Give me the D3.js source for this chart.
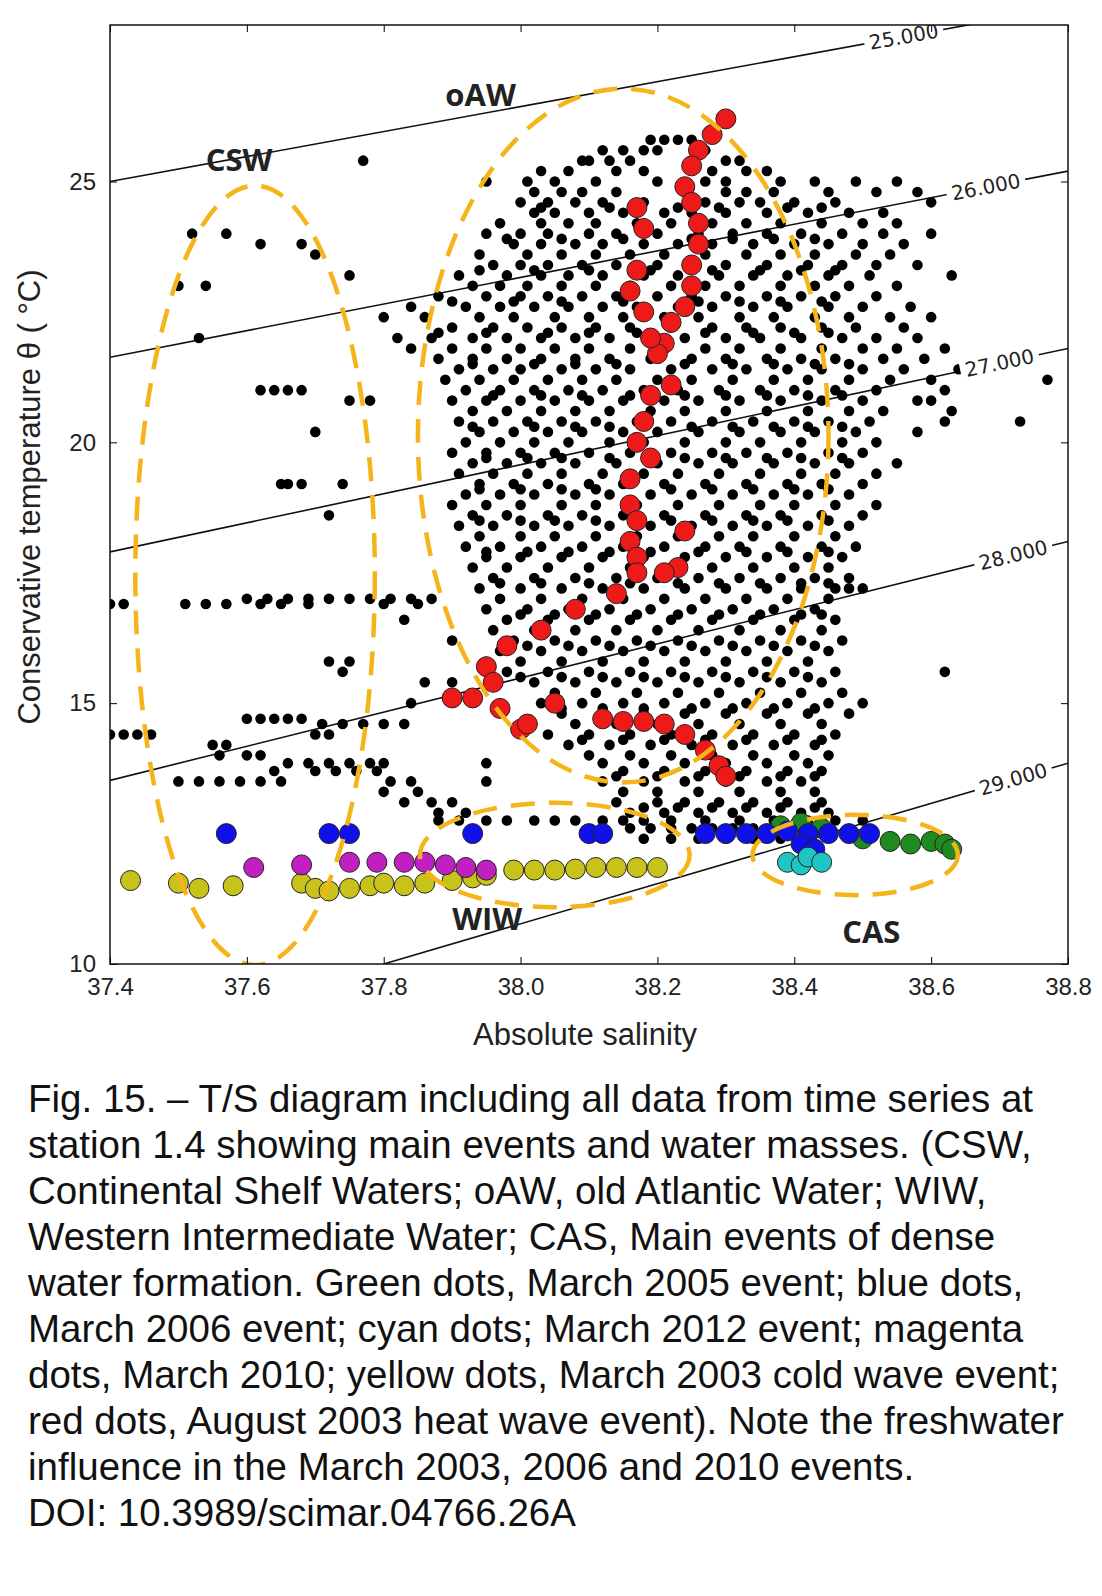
<!DOCTYPE html>
<html><head><meta charset="utf-8">
<script src="https://cdn.jsdelivr.net/npm/d3@7"></script>
<style>
html,body{margin:0;background:#fff;overflow:hidden;}
svg{display:block;}
.cap{font-family:"Liberation Sans",Arial,sans-serif;font-size:38.5px;fill:#111;}
</style></head>
<body>
<div id="chart-area"></div>
<script>
// isopycnals: label, [S,T] start, [S,T] end
var isoNames = ["25.000", "26.000", "27.000", "28.000", "29.000"];
var isoStart = [[37.4, 25.0], [37.4, 21.63], [37.4, 17.9], [37.4, 13.52], [37.8, 10.0]];
var isoEnd = [[38.8, 28.35], [38.8, 25.2], [38.8, 21.8], [38.8, 18.1], [38.8, 13.85]];
var isoLabelS = [38.56, 38.68, 38.70, 38.72, 38.72];

var xTicks = [37.4, 37.6, 37.8, 38.0, 38.2, 38.4, 38.6, 38.8];
var yTicks = [10, 15, 20, 25];

// black dots, rows of [T, [S...]]
var blackRows = [
  [25.8, [38.19, 38.21, 38.23, 38.25]],
  [25.6, [38.12, 38.15, 38.18, 38.2, 38.27]],
  [25.4, [37.77, 38.09, 38.1, 38.13, 38.16, 38.3, 38.32]],
  [25.2, [38.03, 38.07, 38.14, 38.18, 38.28, 38.33, 38.36]],
  [25.0, [37.95, 38.01, 38.05, 38.11, 38.2, 38.27, 38.3, 38.38, 38.43, 38.49, 38.55]],
  [24.8, [38.02, 38.06, 38.09, 38.14, 38.24, 38.3, 38.33, 38.37, 38.45, 38.52, 38.58]],
  [24.6, [38.0, 38.04, 38.08, 38.12, 38.18, 38.27, 38.32, 38.35, 38.4, 38.46, 38.6]],
  [24.4, [38.02, 38.05, 38.1, 38.15, 38.21, 38.25, 38.3, 38.36, 38.42, 38.48, 38.53]],
  [24.2, [37.97, 38.03, 38.07, 38.11, 38.17, 38.22, 38.28, 38.33, 38.38, 38.44, 38.5, 38.55]],
  [24.0, [37.52, 37.57, 37.95, 38.0, 38.04, 38.1, 38.14, 38.2, 38.26, 38.31, 38.36, 38.41, 38.47, 38.53, 38.6]],
  [23.8, [37.62, 37.68, 37.99, 38.03, 38.08, 38.12, 38.18, 38.23, 38.28, 38.34, 38.4, 38.45, 38.5, 38.56]],
  [23.6, [37.7, 37.94, 38.01, 38.06, 38.11, 38.16, 38.21, 38.27, 38.33, 38.38, 38.43, 38.49, 38.54]],
  [23.4, [37.96, 38.0, 38.04, 38.09, 38.14, 38.2, 38.25, 38.3, 38.36, 38.42, 38.47, 38.52, 38.58]],
  [23.2, [37.75, 37.91, 37.98, 38.03, 38.07, 38.12, 38.18, 38.23, 38.29, 38.34, 38.39, 38.45, 38.51, 38.63]],
  [23.0, [37.5, 37.54, 37.93, 37.97, 38.01, 38.06, 38.11, 38.16, 38.22, 38.27, 38.32, 38.38, 38.43, 38.48, 38.55]],
  [22.8, [37.88, 37.95, 38.0, 38.04, 38.09, 38.14, 38.2, 38.25, 38.3, 38.36, 38.41, 38.46, 38.52]],
  [22.6, [37.84, 37.92, 37.97, 38.02, 38.07, 38.12, 38.17, 38.23, 38.28, 38.34, 38.39, 38.45, 38.5, 38.57]],
  [22.4, [37.8, 37.86, 37.94, 37.99, 38.05, 38.1, 38.15, 38.21, 38.26, 38.32, 38.37, 38.43, 38.48, 38.54, 38.6]],
  [22.2, [37.9, 37.96, 38.01, 38.06, 38.11, 38.16, 38.22, 38.28, 38.33, 38.38, 38.44, 38.49, 38.56]],
  [22.0, [37.53, 37.82, 37.87, 37.93, 37.98, 38.03, 38.08, 38.13, 38.19, 38.24, 38.3, 38.35, 38.41, 38.47, 38.52, 38.58]],
  [21.8, [37.84, 37.9, 37.95, 38.0, 38.05, 38.1, 38.16, 38.21, 38.27, 38.32, 38.38, 38.44, 38.5, 38.55, 38.62]],
  [21.6, [37.88, 37.93, 37.98, 38.03, 38.08, 38.13, 38.19, 38.25, 38.3, 38.36, 38.41, 38.46, 38.53, 38.59]],
  [21.4, [37.91, 37.96, 38.0, 38.06, 38.11, 38.16, 38.22, 38.28, 38.33, 38.39, 38.44, 38.5, 38.56, 38.64]],
  [21.2, [37.89, 37.94, 37.99, 38.04, 38.09, 38.14, 38.2, 38.25, 38.31, 38.37, 38.42, 38.48, 38.54, 38.6, 38.77]],
  [21.0, [37.62, 37.64, 37.66, 37.68, 37.92, 37.97, 38.02, 38.07, 38.12, 38.18, 38.23, 38.29, 38.35, 38.4, 38.46, 38.52, 38.62]],
  [20.8, [37.75, 37.78, 37.9, 37.95, 38.0, 38.05, 38.1, 38.15, 38.21, 38.26, 38.32, 38.38, 38.44, 38.5, 38.58, 38.6]],
  [20.6, [37.93, 37.98, 38.03, 38.08, 38.13, 38.19, 38.24, 38.3, 38.36, 38.42, 38.48, 38.53, 38.63]],
  [20.4, [37.91, 37.96, 38.01, 38.06, 38.11, 38.17, 38.22, 38.28, 38.34, 38.4, 38.45, 38.51, 38.62, 38.73]],
  [20.2, [37.7, 37.94, 37.99, 38.04, 38.09, 38.15, 38.2, 38.26, 38.32, 38.38, 38.43, 38.49, 38.58]],
  [20.0, [37.92, 37.97, 38.02, 38.07, 38.13, 38.18, 38.24, 38.3, 38.35, 38.41, 38.47, 38.52]],
  [19.8, [37.9, 37.95, 38.0, 38.05, 38.1, 38.16, 38.22, 38.28, 38.33, 38.39, 38.45, 38.5]],
  [19.6, [37.93, 37.98, 38.03, 38.08, 38.14, 38.2, 38.26, 38.31, 38.37, 38.43, 38.48, 38.55]],
  [19.4, [37.91, 37.96, 38.01, 38.06, 38.12, 38.18, 38.23, 38.29, 38.35, 38.41, 38.46, 38.52]],
  [19.2, [37.65, 37.66, 37.68, 37.74, 37.94, 37.99, 38.04, 38.1, 38.15, 38.21, 38.27, 38.33, 38.39, 38.44, 38.5]],
  [19.0, [37.92, 37.97, 38.02, 38.08, 38.13, 38.19, 38.25, 38.31, 38.37, 38.42, 38.48]],
  [18.8, [37.9, 37.95, 38.0, 38.06, 38.11, 38.17, 38.23, 38.29, 38.35, 38.4, 38.46, 38.52]],
  [18.6, [37.72, 37.93, 37.98, 38.04, 38.09, 38.15, 38.21, 38.27, 38.33, 38.38, 38.44, 38.5]],
  [18.4, [37.91, 37.96, 38.02, 38.07, 38.13, 38.19, 38.25, 38.31, 38.36, 38.42, 38.48]],
  [18.2, [37.94, 38.0, 38.05, 38.11, 38.17, 38.23, 38.29, 38.34, 38.4, 38.46]],
  [18.0, [37.92, 37.97, 38.03, 38.09, 38.15, 38.21, 38.27, 38.32, 38.38, 38.44, 38.49]],
  [17.8, [37.95, 38.0, 38.06, 38.12, 38.18, 38.24, 38.3, 38.36, 38.42, 38.47]],
  [17.6, [37.93, 37.98, 38.04, 38.1, 38.16, 38.22, 38.28, 38.34, 38.4, 38.45]],
  [17.4, [37.96, 38.02, 38.08, 38.14, 38.2, 38.26, 38.32, 38.38, 38.43, 38.48]],
  [17.2, [37.94, 38.0, 38.06, 38.12, 38.18, 38.24, 38.3, 38.36, 38.41, 38.46, 38.48, 38.5]],
  [17.0, [37.6, 37.63, 37.66, 37.69, 37.72, 37.75, 37.78, 37.81, 37.84, 37.87, 37.97, 38.03, 38.09, 38.15, 38.21, 38.27, 38.33, 38.39, 38.45]],
  [16.9, [37.4, 37.42, 37.51, 37.54, 37.57, 37.62, 37.65, 37.69, 37.8, 37.85]],
  [16.8, [37.95, 38.01, 38.07, 38.13, 38.19, 38.25, 38.31, 38.37, 38.43]],
  [16.6, [37.83, 37.98, 38.04, 38.1, 38.16, 38.22, 38.28, 38.34, 38.4, 38.46]],
  [16.4, [37.96, 38.02, 38.08, 38.14, 38.2, 38.26, 38.32, 38.38, 38.44]],
  [16.2, [37.9, 37.99, 38.05, 38.11, 38.17, 38.23, 38.29, 38.35, 38.41, 38.47]],
  [16.0, [37.97, 38.03, 38.09, 38.15, 38.21, 38.27, 38.33, 38.39, 38.45]],
  [15.8, [37.72, 37.75, 38.0, 38.06, 38.12, 38.18, 38.24, 38.3, 38.36, 38.42]],
  [15.6, [37.74, 37.98, 38.04, 38.1, 38.16, 38.22, 38.28, 38.34, 38.4, 38.46, 38.62]],
  [15.4, [37.86, 37.9, 38.02, 38.08, 38.14, 38.2, 38.26, 38.32, 38.38, 38.44]],
  [15.2, [38.05, 38.11, 38.17, 38.23, 38.29, 38.35, 38.41, 38.47]],
  [15.0, [37.84, 38.03, 38.09, 38.15, 38.21, 38.27, 38.33, 38.39, 38.45, 38.5]],
  [14.8, [38.06, 38.12, 38.18, 38.24, 38.3, 38.36, 38.42, 38.48]],
  [14.7, [37.6, 37.62, 37.64, 37.66, 37.68]],
  [14.6, [37.71, 37.74, 37.77, 37.8, 37.83, 38.08, 38.14, 38.2, 38.26, 38.32, 38.38, 38.44]],
  [14.4, [37.4, 37.42, 37.44, 37.46, 37.7, 37.72, 38.04, 38.1, 38.16, 38.22, 38.28, 38.34, 38.4, 38.46]],
  [14.2, [37.55, 37.57, 38.07, 38.13, 38.19, 38.25, 38.31, 38.37, 38.43]],
  [14.0, [37.56, 37.6, 37.62, 38.1, 38.16, 38.22, 38.28, 38.34, 38.4, 38.45]],
  [13.85, [37.66, 37.69, 37.72, 37.75, 37.78, 37.8, 37.95, 38.12, 38.18, 38.24, 38.3, 38.36, 38.42]],
  [13.7, [37.64, 37.7, 37.73, 37.76, 37.79, 38.15, 38.21, 38.27, 38.33, 38.39, 38.44]],
  [13.5, [37.5, 37.53, 37.56, 37.59, 37.62, 37.65, 37.81, 37.84, 37.95, 38.12, 38.18, 38.24, 38.3, 38.36, 38.41]],
  [13.3, [37.8, 37.85, 38.15, 38.2, 38.26, 38.32, 38.38, 38.43]],
  [13.1, [37.83, 37.87, 37.9, 38.14, 38.2, 38.24, 38.29, 38.34, 38.39, 38.44]],
  [12.9, [37.88, 37.92, 38.16, 38.21, 38.26, 38.31, 38.36, 38.41, 38.45]],
  [12.75, [37.88, 37.91, 37.95, 37.98, 38.02, 38.05, 38.08, 38.12, 38.15, 38.18, 38.22, 38.27, 38.32, 38.37, 38.42, 38.46, 38.5]],
  [12.6, [38.16, 38.19, 38.22, 38.25, 38.28, 38.31, 38.34, 38.37, 38.4, 38.43]],
  [12.4, [38.18, 38.22, 38.26, 38.3, 38.34, 38.38, 38.42]],
  // second pass through the dense core
  [24.5, [38.03, 38.13, 38.23, 38.29, 38.39, 38.44]],
  [23.9, [37.98, 38.06, 38.15, 38.25, 38.31, 38.37, 38.43]],
  [23.3, [37.94, 38.02, 38.1, 38.19, 38.28, 38.35, 38.41, 38.46]],
  [22.7, [37.9, 37.99, 38.06, 38.15, 38.26, 38.32, 38.38, 38.44]],
  [22.1, [37.88, 37.95, 38.04, 38.1, 38.17, 38.27, 38.34, 38.4, 38.45]],
  [21.5, [37.93, 38.02, 38.08, 38.14, 38.24, 38.31, 38.37, 38.43, 38.48]],
  [20.9, [37.96, 38.03, 38.09, 38.16, 38.24, 38.3, 38.36, 38.42, 38.47]],
  [20.3, [37.93, 38.02, 38.08, 38.13, 38.25, 38.31, 38.37, 38.42, 38.47]],
  [19.7, [37.95, 38.01, 38.06, 38.13, 38.24, 38.3, 38.36, 38.41, 38.47]],
  [19.1, [37.94, 38.0, 38.06, 38.11, 38.22, 38.28, 38.34, 38.4, 38.45]],
  [18.5, [37.94, 38.0, 38.05, 38.11, 38.22, 38.28, 38.34, 38.39, 38.45]],
  [17.9, [37.95, 38.01, 38.07, 38.13, 38.19, 38.26, 38.33, 38.39, 38.45]],
  [17.3, [37.97, 38.03, 38.1, 38.16, 38.23, 38.29, 38.35, 38.41, 38.45]],
  [16.7, [38.0, 38.05, 38.11, 38.17, 38.23, 38.29, 38.35, 38.41, 38.44]],
  [16.1, [38.01, 38.07, 38.13, 38.19, 38.25, 38.31, 38.37, 38.43]],
  [15.5, [38.0, 38.06, 38.12, 38.18, 38.24, 38.3, 38.36, 38.42]],
  [14.9, [38.06, 38.12, 38.18, 38.25, 38.31, 38.37, 38.43]],
  [14.3, [38.09, 38.15, 38.21, 38.27, 38.33, 38.39, 38.44]],
  [13.6, [38.14, 38.2, 38.26, 38.32, 38.38, 38.43]],
  [13.0, [38.18, 38.23, 38.28, 38.33, 38.38, 38.43]]
];

// coloured event dots [S, T]
var yellowDots = [[37.43, 11.6], [37.5, 11.55], [37.53, 11.45], [37.58, 11.5], [37.68, 11.55], [37.7, 11.45], [37.72, 11.4],
  [37.75, 11.45], [37.78, 11.5], [37.8, 11.55], [37.83, 11.5], [37.86, 11.55], [37.9, 11.6], [37.93, 11.65],
  [37.95, 11.7], [37.99, 11.8], [38.02, 11.8], [38.05, 11.8], [38.08, 11.82], [38.11, 11.85], [38.14, 11.85],
  [38.17, 11.85], [38.2, 11.85]];
var magentaDots = [[37.61, 11.85], [37.68, 11.9], [37.75, 11.95], [37.79, 11.95], [37.83, 11.95], [37.86, 11.95],
  [37.89, 11.9], [37.92, 11.85], [37.95, 11.8]];
var blueDots = [[37.57, 12.5], [37.72, 12.5], [37.75, 12.5], [37.93, 12.5], [38.1, 12.5], [38.12, 12.5],
  [38.27, 12.5], [38.3, 12.5], [38.33, 12.5], [38.36, 12.5], [38.39, 12.55], [38.42, 12.5], [38.45, 12.5],
  [38.48, 12.5], [38.51, 12.5], [38.41, 12.3], [38.43, 12.2]];
var cyanDots = [[38.39, 11.95], [38.41, 11.9], [38.42, 12.05], [38.44, 11.95]];
var greenDots = [[38.38, 12.65], [38.41, 12.7], [38.44, 12.6], [38.5, 12.4], [38.54, 12.35], [38.57, 12.3],
  [38.6, 12.35], [38.62, 12.3], [38.63, 12.2]];
var redDots = [[38.3, 26.2], [38.28, 25.9], [38.26, 25.6], [38.25, 25.3], [38.24, 24.9], [38.25, 24.6],
  [38.17, 24.5], [38.18, 24.1], [38.26, 24.2], [38.26, 23.8], [38.25, 23.4], [38.25, 23.0], [38.24, 22.6],
  [38.22, 22.3], [38.21, 21.9], [38.2, 21.7], [38.17, 23.3], [38.16, 22.9], [38.18, 22.5], [38.19, 22.0],
  [38.22, 21.1], [38.19, 20.9], [38.18, 20.4], [38.17, 20.0], [38.19, 19.7], [38.16, 19.3], [38.16, 18.8],
  [38.17, 18.5], [38.16, 18.1], [38.17, 17.8], [38.17, 17.5], [38.24, 18.3], [38.23, 17.6], [38.21, 17.5],
  [38.14, 17.1], [38.08, 16.8], [38.03, 16.4], [37.98, 16.1], [37.95, 15.7], [37.96, 15.4], [37.93, 15.1],
  [37.9, 15.1], [37.97, 14.9], [38.0, 14.5], [38.01, 14.6], [38.05, 15.0], [38.12, 14.7], [38.15, 14.65],
  [38.18, 14.65], [38.21, 14.6], [38.24, 14.4], [38.27, 14.1], [38.29, 13.8], [38.3, 13.6]];

// water-mass ellipses
var massNames = ["CSW", "oAW", "WIW", "CAS"];
var massCentre = [[37.612, 17.45], [38.15, 20.13], [38.05, 12.09], [38.489, 12.09]];
var massRadius = [[0.175, 7.47], [0.30, 6.65], [0.197, 1.0], [0.15, 0.77]];
var massLabel = [[37.54, 25.2], [37.89, 26.45], [37.9, 10.65], [38.47, 10.4]];

var margin = { top: 25, left: 110 };
var width = 958, height = 939;

var svg = d3.select("#chart-area").append("svg").attr("width", 1102).attr("height", 1596);
var g = svg.append("g").attr("transform", "translate(" + margin.left + "," + margin.top + ")");

var x = d3.scaleLinear().domain([37.4, 38.8]).range([0, width]);
var y = d3.scaleLinear().domain([10, 28]).range([height, 0]);

g.append("clipPath").attr("id", "clip").append("rect").attr("width", width).attr("height", height);
var plot = g.append("g").attr("clip-path", "url(#clip)");

isoNames.forEach(function (n, i) {
  plot.append("line")
    .attr("x1", x(isoStart[i][0])).attr("y1", y(isoStart[i][1]))
    .attr("x2", x(isoEnd[i][0])).attr("y2", y(isoEnd[i][1]))
    .attr("stroke", "#111").attr("stroke-width", 1.6);
});

var black = [];
blackRows.forEach(function (r) { r[1].forEach(function (s) { black.push([s, r[0]]); }); });
plot.selectAll("circle.b").data(black).enter().append("circle")
  .attr("class", "b")
  .attr("cx", function (d) { return x(d[0]); })
  .attr("cy", function (d) { return y(d[1]); })
  .attr("r", 5.3).attr("fill", "#000");

function big(data, col) {
  plot.selectAll(null).data(data).enter().append("circle")
    .attr("cx", function (d) { return x(d[0]); })
    .attr("cy", function (d) { return y(d[1]); })
    .attr("r", 10).attr("fill", col).attr("stroke", "#222").attr("stroke-width", 1);
}
big(yellowDots, "#c8c31a");
big(magentaDots, "#c21fc2");
big(greenDots, "#1f8a1f");
big(blueDots, "#1010e8");
big(cyanDots, "#1fc4c4");
big(redDots, "#ee1a1a");

isoNames.forEach(function (n, i) {
  var s = isoLabelS[i];
  var t = isoStart[i][1] + (isoEnd[i][1] - isoStart[i][1]) * (s - isoStart[i][0]) / (isoEnd[i][0] - isoStart[i][0]);
  var ang = Math.atan2(y(isoEnd[i][1]) - y(isoStart[i][1]), x(isoEnd[i][0]) - x(isoStart[i][0])) * 180 / Math.PI;
  var lg = plot.append("g").attr("transform", "translate(" + x(s) + "," + y(t) + ") rotate(" + ang + ")");
  lg.append("rect").attr("x", -40).attr("y", -12).attr("width", 80).attr("height", 24).attr("fill", "#fff");
  lg.append("text").attr("text-anchor", "middle").attr("dy", "0.35em")
    .attr("font-family", "DejaVu Sans, sans-serif").attr("font-size", 20).attr("fill", "#222").text(n);
});

massNames.forEach(function (n, i) {
  plot.append("ellipse")
    .attr("cx", x(massCentre[i][0])).attr("cy", y(massCentre[i][1]))
    .attr("rx", x(massCentre[i][0] + massRadius[i][0]) - x(massCentre[i][0]))
    .attr("ry", y(massCentre[i][1] - massRadius[i][1]) - y(massCentre[i][1]))
    .attr("fill", "none").attr("stroke", "#f4b41a").attr("stroke-width", 4.5)
    .attr("stroke-dasharray", "24,14");
  plot.append("text").attr("x", x(massLabel[i][0])).attr("y", y(massLabel[i][1]))
    .attr("font-family", "Open Sans, sans-serif").attr("font-weight", "bold")
    .attr("font-size", 31).attr("fill", "#222").text(n);
});

var fmt = d3.format(".1f");
g.append("g").attr("transform", "translate(0," + height + ")")
  .call(d3.axisBottom(x).tickValues(xTicks).tickFormat(fmt).tickSizeInner(-7).tickSizeOuter(0).tickPadding(14));
g.append("g").call(d3.axisTop(x).tickValues(xTicks).tickFormat("").tickSizeInner(-7).tickSizeOuter(0));
g.append("g").call(d3.axisLeft(y).tickValues(yTicks).tickSizeInner(-7).tickSizeOuter(0).tickPadding(14));
g.append("g").attr("transform", "translate(" + width + ",0)")
  .call(d3.axisRight(y).tickValues(yTicks).tickFormat("").tickSizeInner(-7).tickSizeOuter(0));
g.selectAll(".tick text").attr("font-family", "Liberation Sans, Arial, sans-serif").attr("font-size", 24).attr("fill", "#222");
g.selectAll(".domain").remove();
g.append("rect").attr("width", width).attr("height", height).attr("fill", "none").attr("stroke", "#111").attr("stroke-width", 1.5);

svg.append("text").attr("x", 585).attr("y", 1045).attr("text-anchor", "middle")
  .attr("font-family", "Liberation Sans, Arial, sans-serif").attr("font-size", 31).attr("fill", "#222").text("Absolute salinity");
svg.append("text").attr("transform", "translate(40,497) rotate(-90)").attr("text-anchor", "middle")
  .attr("font-family", "Liberation Sans, Arial, sans-serif").attr("font-size", 31).attr("fill", "#222")
  .text("Conservative temperature \u03b8 ( \u00b0C)");

var caption = [
  "Fig. 15. \u2013 T/S diagram including all data from time series at",
  "station 1.4 showing main events and water masses. (CSW,",
  "Continental Shelf Waters; oAW, old Atlantic Water; WIW,",
  "Western Intermediate Water; CAS, Main events of dense",
  "water formation. Green dots, March 2005 event; blue dots,",
  "March 2006 event; cyan dots; March 2012 event; magenta",
  "dots, March 2010; yellow dots, March 2003 cold wave event;",
  "red dots, August 2003 heat wave event). Note the freshwater",
  "influence in the March 2003, 2006 and 2010 events.",
  "DOI: 10.3989/scimar.04766.26A"
];
svg.selectAll("text.cap").data(caption).enter().append("text").attr("class", "cap")
  .attr("x", 28).attr("y", function (d, i) { return 1112 + i * 46; })
  .attr("textLength", function (d, i) { return i === 9 ? null : null; })
  .text(function (d) { return d; });
</script>
</body></html>
